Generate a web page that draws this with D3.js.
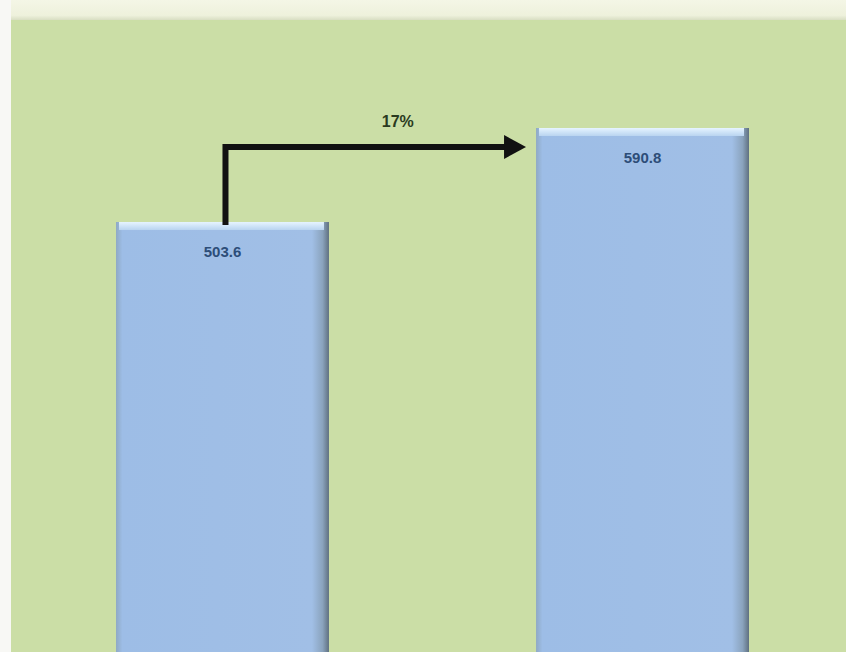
<!DOCTYPE html>
<html>
<head>
<meta charset="utf-8">
<script src="https://cdn.jsdelivr.net/npm/d3@7"></script>
<style>
  body { margin: 0; background: #f8f8f5; }
</style>
</head>
<body>
<div id="chart"></div>
<script>
// Data
const categories = ["A", "B"];
const values = [503.6, 590.8];
const valueLabels = ["503.6", "590.8"];
const growthLabel = "17%";

const width = 846;
const height = 652;

const svg = d3.select("#chart").append("svg")
    .attr("width", width)
    .attr("height", height);

const defs = svg.append("defs");

// top band shading
const topGrad = defs.append("linearGradient")
    .attr("id", "topGrad").attr("x1", 0).attr("y1", 0).attr("x2", 0).attr("y2", 1);
topGrad.append("stop").attr("offset", "0%").attr("stop-color", "#f4f6e6");
topGrad.append("stop").attr("offset", "70%").attr("stop-color", "#eef1dc");
topGrad.append("stop").attr("offset", "100%").attr("stop-color", "#cfd6b8");

// bar fill, horizontal shading
const barGrad = defs.append("linearGradient")
    .attr("id", "barGrad").attr("x1", 0).attr("y1", 0).attr("x2", 1).attr("y2", 0);
barGrad.append("stop").attr("offset", "0%").attr("stop-color", "#8fa9c4");
barGrad.append("stop").attr("offset", "3%").attr("stop-color", "#9dbde6");
barGrad.append("stop").attr("offset", "92%").attr("stop-color", "#a1bfe6");
barGrad.append("stop").attr("offset", "97%").attr("stop-color", "#8aa3bd");
barGrad.append("stop").attr("offset", "100%").attr("stop-color", "#5f7080");

const capGrad = defs.append("linearGradient")
    .attr("id", "capGrad").attr("x1", 0).attr("y1", 0).attr("x2", 0).attr("y2", 1);
capGrad.append("stop").attr("offset", "0%").attr("stop-color", "#e6f4ff");
capGrad.append("stop").attr("offset", "100%").attr("stop-color", "#b9d4f0");

// background
svg.append("rect")
    .attr("x", 11).attr("y", 0).attr("width", width - 11).attr("height", 22)
    .attr("fill", "url(#topGrad)");
svg.append("rect")
    .attr("x", 11).attr("y", 20).attr("width", width - 11).attr("height", height - 20)
    .attr("fill", "#cbdea6");

// scales
const x = d3.scaleBand()
    .domain(categories)
    .range([11, 854])
    .paddingInner(0.493)
    .paddingOuter(0.25);

const y = d3.scaleLinear()
    .domain([0, d3.max(values)])
    .range([765, 128]);

const bars = svg.append("g")
    .selectAll("g")
    .data(categories)
    .join("g");

bars.append("rect")
    .attr("x", d => x(d))
    .attr("y", (d, i) => y(values[i]))
    .attr("width", x.bandwidth())
    .attr("height", (d, i) => y(0) - y(values[i]))
    .attr("fill", "url(#barGrad)");

bars.append("rect")
    .attr("x", d => x(d) + 3)
    .attr("y", (d, i) => y(values[i]))
    .attr("width", x.bandwidth() - 8)
    .attr("height", 8)
    .attr("fill", "url(#capGrad)");

bars.append("text")
    .attr("x", d => x(d) + x.bandwidth() / 2)
    .attr("y", (d, i) => y(values[i]) + 35)
    .attr("text-anchor", "middle")
    .attr("font-family", "Liberation Sans, Arial, sans-serif")
    .attr("font-size", 15)
    .attr("font-weight", "bold")
    .attr("fill", "#2d4d78")
    .text((d, i) => valueLabels[i]);

// growth arrow
const ax = x(categories[0]) + x.bandwidth() / 2 + 3;
const ay = y(values[1]) + 19;
const tipX = x(categories[1]) - 10;

svg.append("path")
    .attr("d", `M${ax},${y(values[0]) + 3} L${ax},${ay} L${tipX - 18},${ay}`)
    .attr("fill", "none")
    .attr("stroke", "#111")
    .attr("stroke-width", 6)
    .attr("stroke-linejoin", "miter");

svg.append("path")
    .attr("d", `M${tipX - 22},${ay - 12} L${tipX},${ay} L${tipX - 22},${ay + 12} Z`)
    .attr("fill", "#111");

svg.append("text")
    .attr("x", (ax + tipX) / 2 + 22)
    .attr("y", ay - 20)
    .attr("text-anchor", "middle")
    .attr("font-family", "Liberation Sans, Arial, sans-serif")
    .attr("font-size", 16)
    .attr("font-weight", "bold")
    .attr("fill", "#2a3a20")
    .text(growthLabel);
</script>
</body>
</html>
